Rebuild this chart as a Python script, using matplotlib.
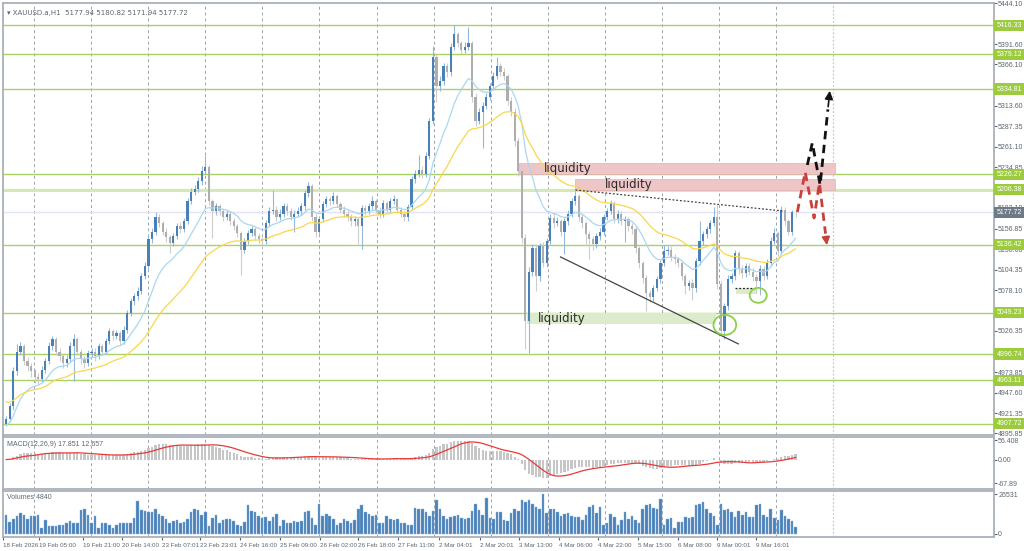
import numpy as np
import pandas as pd
import matplotlib.pyplot as plt
import matplotlib.transforms as mtransforms
from matplotlib.patches import Rectangle, Ellipse

plt.rcParams['font.family'] = ['Liberation Sans', 'DejaVu Sans']

# XAUUSD.a H1 のローソク足 (チャートから読み取り)
first_open = 4908
closes = [
    4914, 4930, 4975, 5000, 5007, 4988, 4981, 4975,
    4968, 4965, 4977, 4988, 5007, 5016, 5000, 4994, 4985, 4990, 5007, 5016, 5000, 4990, 4985, 4998,
    5000, 4994, 5007, 5000, 5013, 5026, 5020, 5023, 5013, 5028, 5049, 5064, 5071, 5077, 5096, 5109,
    5143, 5153, 5172, 5164, 5153, 5146, 5138, 5147, 5160, 5156, 5166, 5192, 5204, 5207, 5217, 5230,
    5235, 5192, 5179, 5185, 5179, 5172, 5176, 5166, 5160, 5151, 5130, 5141, 5151, 5156, 5147, 5143,
    5141, 5164, 5179, 5181, 5172, 5176, 5185, 5179, 5172, 5176, 5179, 5185, 5202, 5211, 5172, 5153,
    5169, 5188, 5194, 5192, 5198, 5188, 5181, 5176, 5172, 5166, 5169, 5160, 5183, 5179, 5185, 5192,
    5181, 5176, 5189, 5181, 5192, 5194, 5181, 5176, 5171, 5184, 5220, 5227, 5232, 5227, 5249, 5294,
    5376, 5338, 5345, 5364, 5357, 5389, 5405, 5393, 5385, 5389, 5393, 5325, 5294, 5306, 5313, 5325,
    5338, 5351, 5364, 5357, 5351, 5319, 5306, 5268, 5230, 5145, 5039, 5102, 5132, 5096, 5134, 5113,
    5141, 5170, 5164, 5166, 5153, 5166, 5176, 5192, 5198, 5172, 5164, 5150, 5143, 5137, 5147, 5153,
    5172, 5179, 5189, 5169, 5176, 5166, 5169, 5160, 5156, 5132, 5113, 5094, 5074, 5069, 5081, 5092,
    5113, 5128, 5130, 5121, 5118, 5113, 5096, 5083, 5087, 5081, 5115, 5141, 5150, 5156, 5164, 5172,
    5086, 5026, 5058, 5092, 5096, 5125, 5105, 5100, 5109, 5102, 5095, 5090, 5105, 5096, 5113, 5141,
    5151, 5128, 5181, 5166, 5153, 5178, 5177.72,
]
highs = [
    4918, 4934, 4980, 5010, 5012, 5010, 4993, 4985,
    4978, 4972, 4981, 4992, 5012, 5020, 5018, 5004, 4997, 4995, 5012, 5022, 5019, 5003, 4994, 5002,
    5005, 5004, 5011, 5010, 5017, 5030, 5029, 5027, 5026, 5032, 5053, 5068, 5075, 5082, 5100, 5114,
    5148, 5158, 5178, 5175, 5166, 5157, 5149, 5151, 5164, 5165, 5170, 5196, 5209, 5212, 5222, 5236,
    5250, 5238, 5195, 5190, 5188, 5183, 5180, 5179, 5170, 5163, 5154, 5145, 5155, 5160, 5159, 5151,
    5147, 5168, 5184, 5206, 5185, 5182, 5190, 5189, 5183, 5180, 5184, 5190, 5206, 5216, 5214, 5176,
    5173, 5192, 5198, 5198, 5203, 5201, 5191, 5185, 5180, 5176, 5173, 5172, 5187, 5187, 5190, 5198,
    5195, 5184, 5193, 5192, 5196, 5199, 5196, 5184, 5179, 5188, 5224, 5232, 5250, 5236, 5254, 5298,
    5390, 5380, 5352, 5368, 5368, 5393, 5416, 5408, 5396, 5395, 5414, 5396, 5330, 5311, 5318, 5330,
    5342, 5356, 5376, 5368, 5361, 5354, 5324, 5310, 5272, 5234, 5150, 5108, 5137, 5136, 5139, 5140,
    5145, 5175, 5177, 5172, 5169, 5170, 5181, 5196, 5205, 5201, 5176, 5167, 5154, 5147, 5151, 5157,
    5176, 5183, 5193, 5192, 5180, 5179, 5173, 5172, 5164, 5159, 5135, 5116, 5098, 5078, 5085, 5096,
    5117, 5136, 5135, 5134, 5124, 5121, 5116, 5099, 5091, 5092, 5119, 5166, 5154, 5160, 5168, 5184,
    5187, 5090, 5062, 5097, 5100, 5130, 5128, 5110, 5113, 5113, 5106, 5099, 5110, 5109, 5118, 5146,
    5158, 5154, 5186, 5184, 5169, 5180, 5180.82,
]
lows = [
    4905, 4910, 4926, 4970, 4995, 4983, 4975, 4968,
    4960, 4958, 4961, 4972, 4984, 5002, 4995, 4988, 4979, 4980, 4986, 4962, 4996, 4984, 4979, 4981,
    4993, 4988, 4990, 4995, 4997, 5009, 5015, 5016, 5008, 5009, 5024, 5045, 5059, 5066, 5073, 5092,
    5104, 5138, 5149, 5159, 5148, 5140, 5125, 5134, 5143, 5151, 5152, 5162, 5188, 5199, 5203, 5213,
    5226, 5187, 5145, 5174, 5174, 5167, 5168, 5161, 5155, 5146, 5098, 5125, 5137, 5147, 5142, 5138,
    5133, 5137, 5160, 5175, 5167, 5168, 5171, 5174, 5168, 5152, 5171, 5174, 5180, 5197, 5166, 5146,
    5149, 5165, 5184, 5187, 5188, 5184, 5177, 5171, 5166, 5160, 5160, 5137, 5131, 5174, 5175, 5181,
    5177, 5170, 5172, 5177, 5177, 5188, 5177, 5171, 5166, 5167, 5180, 5215, 5222, 5221, 5223, 5245,
    5290, 5318, 5332, 5340, 5350, 5352, 5385, 5388, 5380, 5381, 5384, 5318, 5288, 5290, 5260, 5309,
    5321, 5334, 5347, 5351, 5346, 5314, 5300, 5262, 5224, 5138, 5003, 4998, 5096, 5077, 5090, 5108,
    5108, 5137, 5158, 5160, 5147, 5124, 5161, 5172, 5187, 5167, 5158, 5137, 5118, 5130, 5132, 5142,
    5149, 5168, 5175, 5164, 5164, 5161, 5140, 5154, 5150, 5126, 5107, 5088, 5052, 5063, 5064, 5077,
    5088, 5109, 5123, 5116, 5112, 5108, 5091, 5073, 5078, 5066, 5076, 5110, 5136, 5145, 5151, 5160,
    5080, 5022, 5016, 5053, 5087, 5091, 5099, 5094, 5095, 5097, 5090, 5074, 5072, 5091, 5092, 5109,
    5137, 5122, 5124, 5161, 5148, 5149, 5171.94,
]
volumes = [
    12600, 8000, 10100, 11800, 13700, 12600, 9700, 11800, 12200, 12600, 3800, 9100,
    5500, 5500, 5500, 6300, 5900, 7000, 8400, 7000, 7000, 15800, 16800, 12600,
    7600, 11800, 3800, 7600, 7000, 5900, 4200, 5900, 7000, 7600, 7600, 7600,
    10500, 22100, 16000, 15400, 14700, 14700, 16400, 13300, 11800, 10100, 7600, 8400,
    9100, 7600, 8000, 10100, 14700, 16800, 16000, 12600, 14700, 5500, 10500, 12600,
    7600, 9100, 10100, 10100, 8400, 6300, 5300, 8000, 19000, 15400, 14300, 11800,
    10500, 11200, 8400, 11200, 13300, 5500, 9100, 7000, 7600, 8400, 8000, 8400,
    14700, 15400, 10500, 6300, 20200, 12200, 13300, 11800, 10100, 6300, 7600, 10100,
    8400, 7600, 9100, 16400, 19000, 14700, 13300, 11800, 12600, 7600, 7600, 11800,
    9700, 9100, 10100, 7600, 7000, 6300, 6300, 17500, 16800, 16800, 14300, 11800,
    15400, 22300, 16400, 11800, 9700, 11200, 11800, 12600, 10500, 9700, 10500, 15400,
    19600, 16000, 12600, 23800, 10500, 10100, 14700, 14300, 9100, 8400, 13900,
    16400, 15400, 22700, 21100, 22300, 20200, 18100, 16800, 26531, 13900, 16400, 16400,
    14300, 11800, 13300, 13900, 11800, 11200, 11200, 9100, 12600, 18100, 19000, 13900,
    18100, 6300, 7000, 13300, 11200, 5900, 9100, 14300, 10100, 12200, 9100, 7000,
    16800, 19000, 20200, 17500, 16800, 23200, 6300, 10100, 10500, 4200, 8000, 8000,
    11200, 10500, 11200, 19000, 20200, 21100, 16400, 13900, 12200, 5900, 20200, 16000,
    16800, 14300, 11200, 15400, 12600, 14700, 11200, 11200, 19000, 20200, 12600, 11200,
    16800, 10500, 9100, 16000, 11800, 9700, 8400, 4400,
]

# 移動平均の開始値 (チャート左端の位置)
ma_fast_start = 4905
ma_slow_start = 4937

levels = [5416.33, 5379.12, 5334.81, 5226.27, 5206.38, 5136.42, 5049.23, 4996.74, 4963.11, 4907.72]
last_price = 5177.72
price_ticks = [5444.10, 5391.60, 5366.10, 5313.60, 5287.35, 5261.10, 5234.85, 5183.10,
               5156.85, 5130.60, 5104.35, 5078.10, 5026.35, 4973.85, 4947.60, 4921.35, 4895.85]
time_labels = ['18 Feb 2026', '19 Feb 05:00', '19 Feb 21:00', '20 Feb 14:00', '23 Feb 07:01',
               '23 Feb 23:01', '24 Feb 16:00', '25 Feb 09:00', '26 Feb 02:00', '26 Feb 18:00',
               '27 Feb 11:00', '2 Mar 04:01', '2 Mar 20:01', '3 Mar 13:00', '4 Mar 06:00',
               '4 Mar 22:00', '5 Mar 15:00', '6 Mar 08:00', '9 Mar 00:01', '9 Mar 16:01']
time_label_pos = [-0.9, 9.1, 21.7, 32.7, 43.9, 54.6, 65.8, 77.0, 88.3, 99.0, 110.2, 121.7,
                  133.2, 144.2, 155.4, 166.4, 177.6, 188.8, 199.8, 211.0]

# ---- 計算 ----
c = np.array(closes, dtype=float)
o = np.concatenate([[first_open], c[:-1]])
h = np.array(highs, dtype=float)
l = np.array(lows, dtype=float)
x = np.arange(len(c))
up = c >= o

ma_fast = pd.Series([ma_fast_start] + closes).ewm(span=14, adjust=False).mean().values[1:]
ma_slow = pd.Series([ma_slow_start] + closes).ewm(span=35, adjust=False).mean().values[1:]
s = pd.Series(closes)
macd = (s.ewm(span=12, adjust=False).mean() - s.ewm(span=26, adjust=False).mean()).values
signal = pd.Series(macd).rolling(9, min_periods=1).mean().values

# ---- 図 ----
W, H = 1024, 551
fig = plt.figure(figsize=(W / 100, H / 100), dpi=100)


def rect(left, top, right, bottom):
    return [left / W, 1 - bottom / H, (right - left) / W, (bottom - top) / H]


ax = fig.add_axes(rect(3, 3, 994, 435))
ax_m = fig.add_axes(rect(3, 437, 994, 489), sharex=ax)
ax_v = fig.add_axes(rect(3, 491, 994, 537), sharex=ax)

tick_col = '#5c6670'
grid_x = [7.9 + 16.04 * k for k in range(14)]
for a in (ax, ax_m, ax_v):
    a.set_facecolor('white')
    for sp in a.spines.values():
        sp.set_color('#a9b1b9')
        sp.set_linewidth(1.3)
    a.yaxis.tick_right()
    a.tick_params(axis='y', length=2, labelsize=5, colors=tick_col, pad=1)
    for gx in grid_x:
        a.axvline(gx, color='#9aa3ad', lw=0.7, ls=(0, (3, 3)), zorder=0)
    a.axvline(232.5, color='#c4cad0', lw=0.9, ls=(0, (1.5, 1.5)), zorder=0)

ax.set_xlim(-0.56, 277.8)
ax.set_ylim(4893.5, 5444.5)

# 水平線 (サポート・レジスタンス)
for lv in levels:
    lc = '#d6e8b4' if lv == 5206.38 else '#a8d264'
    lw = 2.2 if lv == 5206.38 else 1.0
    ax.axhline(lv, color=lc, lw=lw, zorder=1)
ax.axhline(last_price, color='#e4e4f4', lw=1.0, zorder=1)

# liquidity ゾーン
ax.add_patch(Rectangle((144.1, 5226.3), 89.0, 13.7, fc='#efc6c8', ec='#e3b0b4', lw=0.5, zorder=1.5))
ax.add_patch(Rectangle((160.1, 5206.0), 73.0, 14.0, fc='#efc6c8', ec='#e3b0b4', lw=0.5, zorder=1.5))
ax.add_patch(Rectangle((146.6, 5035.2), 53.1, 14.0, fc='#dcebcc', ec='none', zorder=1.5))
ax.add_patch(Rectangle((205.3, 5073.4), 5.9, 7.7, fc='#dcebcc', ec='none', zorder=1.5))
for tx, ty in ((151.1, 5233.5), (168.3, 5213.5), (149.4, 5042.5)):
    ax.text(tx, ty, 'liquidity', fontsize=8.5, color='#2a2a2a', va='center',
            family='DejaVu Sans', zorder=6)

# ローソク足
bull_body, bull_wick = '#4a80b8', '#93b8dc'
bear_body, bear_wick = '#aeaeae', '#cdcdcd'
ax.vlines(x, l, h, colors=np.where(up, bull_wick, bear_wick), lw=0.8, zorder=2)
body = np.maximum(np.abs(c - o), 0.8)
ax.bar(x, body, bottom=np.minimum(o, c), width=0.62,
       color=np.where(up, bull_body, bear_body), zorder=3)

# 移動平均
ax.plot(x, ma_fast, color='#a9d8f0', lw=0.9, zorder=4)
ax.plot(x, ma_slow, color='#f8d84a', lw=0.9, zorder=4)

# トレンドライン
ax.plot([160.1, 218.5], [5206.0, 5179.2], color='#444444', lw=0.9, ls=(0, (1.5, 1.5)), zorder=5)
ax.plot([155.9, 205.9], [5120.6, 5009.7], color='#444444', lw=0.9, zorder=5)
ax.plot([205.1, 211.2], [5081.0, 5081.0], color='#222222', lw=0.9, ls=(0, (1.5, 1.5)), zorder=5)

# 円
ax.add_patch(Ellipse((202.1, 5033.9), 6.4, 25.5, fill=False, ec='#8cd04c', lw=1.3, zorder=6))
ax.add_patch(Ellipse((211.5, 5071.6), 4.8, 19.0, fill=False, ec='#8cd04c', lw=1.3, zorder=6))

# シナリオ矢印
red_x = [222.5, 224.7, 227.2, 228.7, 230.9]
red_y = [5178.0, 5229.0, 5170.3, 5214.9, 5132.1]
blk_x = [225.3, 226.7, 228.9, 231.7]
blk_y = [5237.9, 5265.9, 5212.4, 5336.0]
for px, py, col in ((red_x, red_y, '#c8403c'), (blk_x, blk_y, '#111111')):
    ex = px[-1] - 0.22 * (px[-1] - px[-2])
    ey = py[-1] - 0.22 * (py[-1] - py[-2])
    ax.plot(px[:-1] + [ex], py[:-1] + [ey], color=col, lw=2.0, ls=(0, (3, 2)), zorder=7)
    ax.annotate('', xy=(px[-1], py[-1]), xytext=(ex, ey),
                arrowprops=dict(arrowstyle='-|>', color=col, lw=1.2, mutation_scale=12), zorder=7)

# 右側の価格目盛
ax.set_yticks(price_ticks)
ax.set_yticklabels([f'{v:.2f}' for v in price_ticks])
trans = mtransforms.blended_transform_factory(ax.transAxes, ax.transData)
for lv in levels:
    ax.text(1.0025, lv, f'{lv:.2f}', transform=trans, fontsize=5, color='white', va='center', ha='left',
            bbox=dict(boxstyle='square,pad=0.3', fc='#9ccb3e', ec='none'), clip_on=False, zorder=10)
ax.text(1.0025, last_price, f'{last_price:.2f}', transform=trans, fontsize=5, color='white', va='center',
        ha='left', bbox=dict(boxstyle='square,pad=0.3', fc='#6e7a87', ec='none'), clip_on=False, zorder=10)
ax.tick_params(axis='x', bottom=False, labelbottom=False)
ax.text(0.004, 0.984, '\u25be XAUUSD.a,H1  5177.94 5180.82 5171.94 5177.72', transform=ax.transAxes,
        fontsize=5, color=tick_col, va='top', family=['DejaVu Sans'])

# MACD
ax_m.bar(x, macd, width=0.62, color='#c6c6c6', zorder=2)
ax_m.plot(x, signal, color='#e83a3a', lw=0.9, zorder=3)
ax_m.set_ylim(-85.2, 65.1)
ax_m.set_yticks([56.408, 0.0, -67.89])
ax_m.set_yticklabels(['56.408', '0.00', '-67.89'])
ax_m.tick_params(axis='x', bottom=False, labelbottom=False)
ax_m.text(0.004, 0.93, 'MACD(12,26,9) 17.851 12.657', transform=ax_m.transAxes,
          fontsize=5, color=tick_col, va='top')

# 出来高
ax_v.bar(np.arange(len(volumes)), volumes, width=0.72, color='#4a80b8', edgecolor='#8fb5da', lw=0.3, zorder=2)
ax_v.set_ylim(-1990, 28521)
ax_v.set_yticks([26531, 0])
ax_v.set_yticklabels(['26531', '0'])
ax_v.text(0.004, 0.93, 'Volumes 4840', transform=ax_v.transAxes, fontsize=5, color=tick_col, va='top')
ax_v.set_xticks(time_label_pos)
ax_v.set_xticklabels(time_labels, ha='left')
ax_v.tick_params(axis='x', length=2, labelsize=4.5, colors=tick_col, pad=2)

fig.savefig('out.png', dpi=100, facecolor='white')
